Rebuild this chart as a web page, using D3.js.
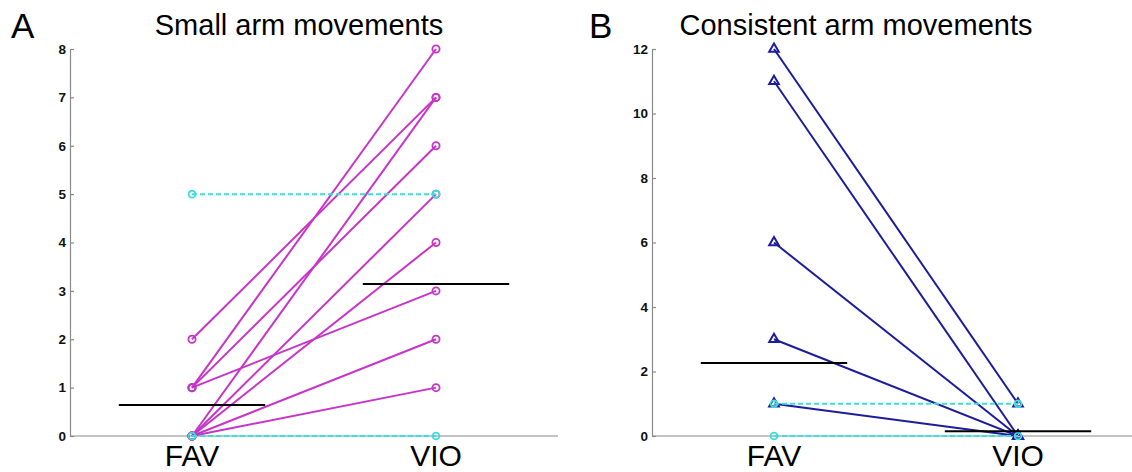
<!DOCTYPE html>
<html>
<head>
<meta charset="utf-8">
<script src="https://cdn.jsdelivr.net/npm/d3@7"></script>
<style>
  html, body { margin: 0; padding: 0; background: #fff; }
  svg { display: block; font-family: "Liberation Sans", Arial, sans-serif; }
</style>
</head>
<body>
<svg id="chart" width="1132" height="472"></svg>
<script>
// ---------- data ----------
const categories = ["FAV", "VIO"];

// Panel A: Small arm movements (subjects that changed, magenta)
const smallArmFav = [2, 1, 1, 1, 0, 0, 0, 0, 0];
const smallArmVio = [7, 8, 6, 3, 7, 5, 4, 2, 1];
// subjects with no change (cyan dashed)
const smallArmSameFav = [5, 0];
const smallArmSameVio = [5, 0];
const smallArmMeans = [0.64, 3.14];
const smallArmTicks = [0, 1, 2, 3, 4, 5, 6, 7, 8];

// Panel B: Consistent arm movements (blue)
const consistentFav = [12, 11, 6, 3, 1];
const consistentVio = [1, 0, 0, 0, 0];
const consistentSameFav = [1, 0];
const consistentSameVio = [1, 0];
const consistentMeans = [2.26, 0.15];
const consistentTicks = [0, 2, 4, 6, 8, 10, 12];

const panelLetters = ["A", "B"];
const titles = ["Small arm movements", "Consistent arm movements"];

// ---------- drawing ----------
const svg = d3.select("#chart");
const MAGENTA = "#c834c8";
const CYAN = "#3fdcdc";
const BLUE = "#1c1c9c";
const AXIS = "#8a8a8a";

function drawPanel(opt) {
  const g = svg.append("g");
  const x = d3.scalePoint().domain(categories).range([opt.x0, opt.x1]).padding(0.5);
  const y = d3.scaleLinear().domain([0, opt.ymax]).range([436, 49]);
  const step = x.step();

  // y axis (ticks inward)
  const yAxis = d3.axisLeft(y).tickValues(opt.ticks).tickSizeInner(-4).tickSizeOuter(0).tickPadding(4)
    .tickFormat(d3.format("d"));
  const ya = g.append("g").attr("transform", `translate(${opt.x0},0)`).call(yAxis);
  ya.select(".domain").attr("stroke", AXIS).attr("stroke-width", 1.2);
  ya.selectAll(".tick line").attr("stroke", AXIS).attr("stroke-width", 1.2);
  ya.selectAll(".tick text").attr("fill", "#111").attr("font-size", 13.5).attr("font-weight", "bold")
    .attr("font-family", "'Liberation Sans', Arial, sans-serif");

  // x baseline
  g.append("line").attr("x1", opt.x0).attr("x2", opt.xLineEnd)
    .attr("y1", y(0)).attr("y2", y(0)).attr("stroke", AXIS).attr("stroke-width", 1.2);

  // x category labels
  g.selectAll(".xlab").data(categories).enter().append("text")
    .attr("x", d => x(d)).attr("y", 466).attr("text-anchor", "middle")
    .attr("font-size", 30).attr("fill", "#000").text(d => d);

  const pairs = (a, b) => a.map((v, i) => [v, b[i]]);
  const lineGen = d3.line().x((d, i) => x(categories[i])).y(d => y(d));

  // subject lines (main colour)
  const main = pairs(opt.fav, opt.vio);
  g.selectAll(".subj").data(main).enter().append("path")
    .attr("d", d => lineGen(d)).attr("fill", "none")
    .attr("stroke", opt.color).attr("stroke-width", 2);

  const markerPts = main.flatMap(d => d.map((v, i) => ({ c: categories[i], v })));
  if (opt.symbol === "circle") {
    g.selectAll(".mk").data(markerPts).enter().append("circle")
      .attr("cx", d => x(d.c)).attr("cy", d => y(d.v)).attr("r", 3.6)
      .attr("fill", "none").attr("stroke", opt.color).attr("stroke-width", 1.8);
  } else {
    const tri = d3.symbol().type(d3.symbolTriangle).size(40);
    g.selectAll(".mk").data(markerPts).enter().append("path")
      .attr("d", tri).attr("transform", d => `translate(${x(d.c)},${y(d.v)})`)
      .attr("fill", "none").attr("stroke", opt.color).attr("stroke-width", 2);
  }

  // no-change subjects (cyan dashed)
  const same = pairs(opt.sameFav, opt.sameVio);
  g.selectAll(".same").data(same).enter().append("path")
    .attr("d", d => lineGen(d)).attr("fill", "none")
    .attr("stroke", CYAN).attr("stroke-width", 2).attr("stroke-dasharray", "5,3");
  const samePts = same.flatMap(d => d.map((v, i) => ({ c: categories[i], v })));
  g.selectAll(".smk").data(samePts).enter().append("circle")
    .attr("cx", d => x(d.c)).attr("cy", d => y(d.v)).attr("r", 3.4)
    .attr("fill", "none").attr("stroke", CYAN).attr("stroke-width", 1.8);

  // group means (black)
  g.selectAll(".mean").data(opt.means).enter().append("line")
    .attr("x1", (d, i) => x(categories[i]) - 0.3 * step)
    .attr("x2", (d, i) => x(categories[i]) + 0.3 * step)
    .attr("y1", d => y(d)).attr("y2", d => y(d))
    .attr("stroke", "#000").attr("stroke-width", 2);

  // title and panel letter
  g.append("text").attr("x", opt.titleX).attr("y", 35).attr("text-anchor", "middle")
    .attr("font-size", 29).attr("fill", "#000").text(opt.title);
  g.append("text").attr("x", opt.letterX).attr("y", 38)
    .attr("font-size", 35).attr("fill", "#000").text(opt.letter);
}

drawPanel({
  x0: 70, x1: 558, xLineEnd: 558, ymax: 8, ticks: smallArmTicks,
  fav: smallArmFav, vio: smallArmVio, sameFav: smallArmSameFav, sameVio: smallArmSameVio,
  means: smallArmMeans, color: MAGENTA, symbol: "circle",
  title: titles[0], titleX: 299, letter: panelLetters[0], letterX: 11
});
drawPanel({
  x0: 652, x1: 1140, xLineEnd: 1132, ymax: 12, ticks: consistentTicks,
  fav: consistentFav, vio: consistentVio, sameFav: consistentSameFav, sameVio: consistentSameVio,
  means: consistentMeans, color: BLUE, symbol: "triangle",
  title: titles[1], titleX: 856, letter: panelLetters[1], letterX: 589
});
</script>
</body>
</html>
